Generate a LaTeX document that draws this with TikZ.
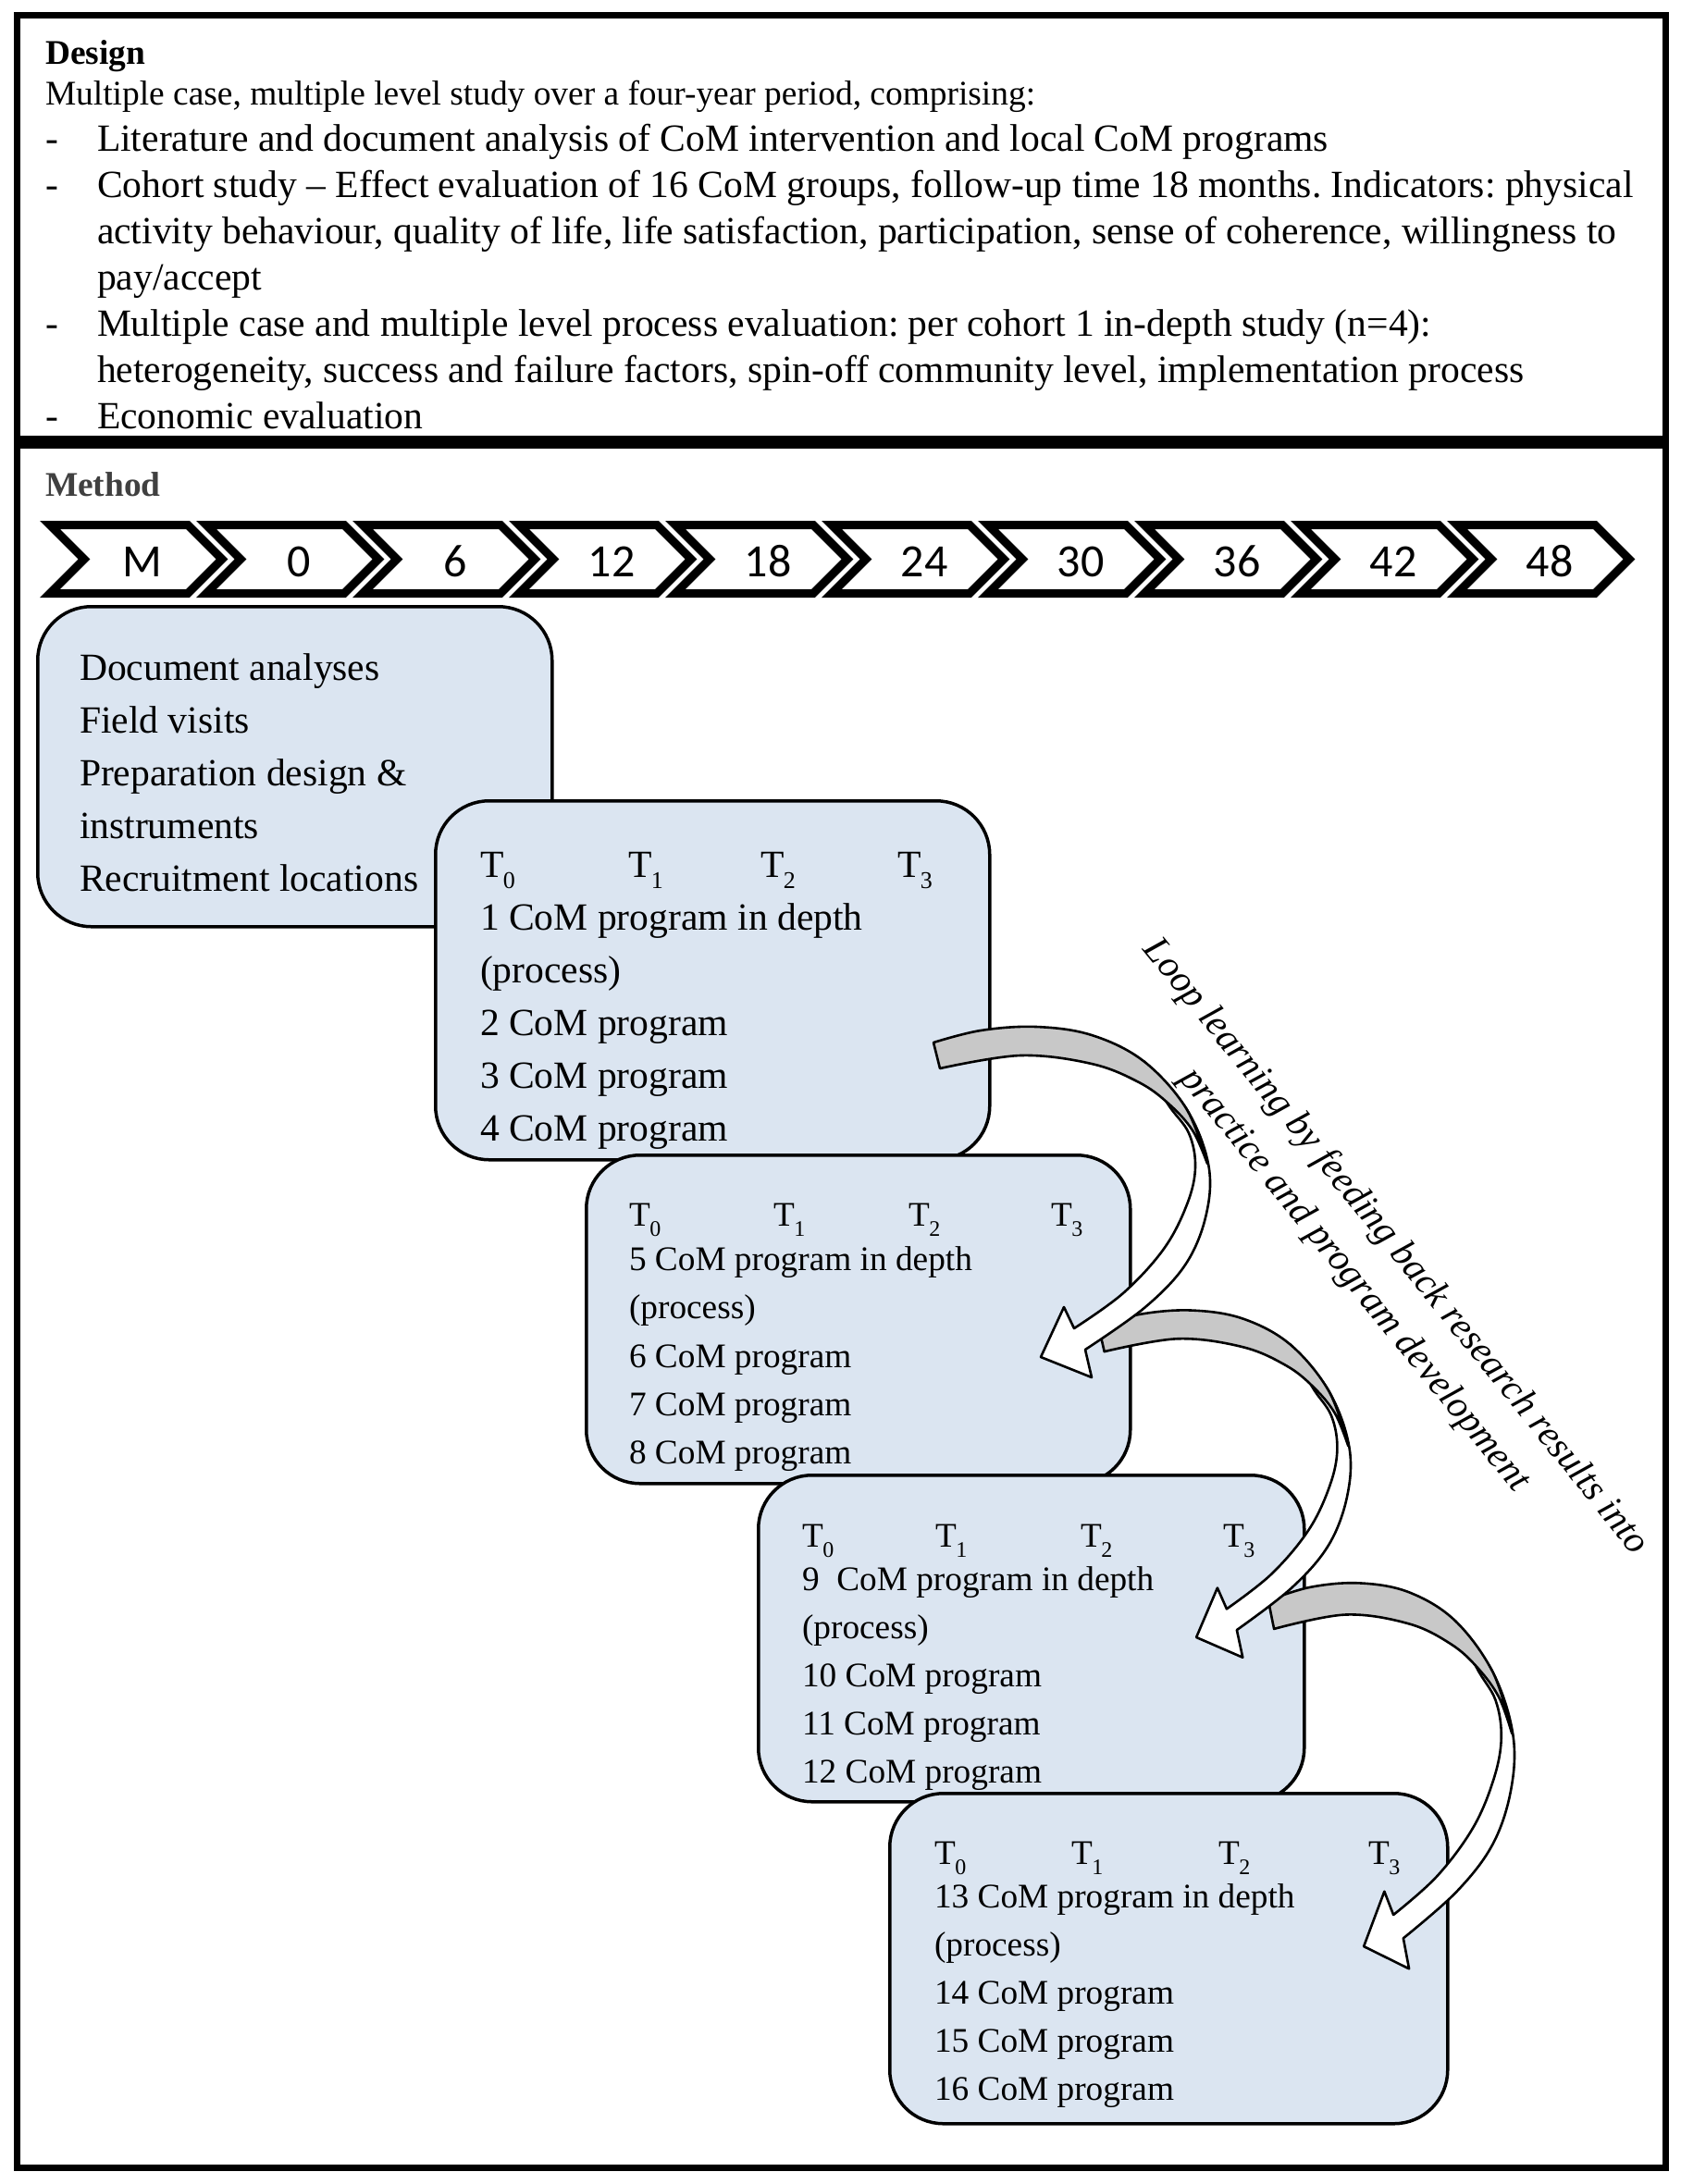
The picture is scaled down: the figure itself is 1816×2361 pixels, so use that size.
\documentclass[tikz,border=0pt]{standalone}
\usepackage{fontspec}
\setmainfont{Liberation Serif}
\newfontfamily\chevfont{Carlito}
\definecolor{boxblue}{HTML}{DBE5F1}
\definecolor{arrowgray}{HTML}{C8C8C8}
\definecolor{methodgray}{HTML}{404040}
\frenchspacing
\newcommand\FS[2]{\fontsize{#1}{#2}\selectfont}
\newcommand\Tx[2]{T\kern-0.5pt\raisebox{-0.3em}{\fontsize{#2}{#2}\selectfont #1}}
\newcommand\loopArrow{%
 \filldraw[arrowline, fill=white] plot[smooth,tension=0.6] coordinates {(1236,1147) (1282,1198) (1306,1258) (1304,1312) (1282,1366) (1238,1413) (1173,1459)} -- (1180,1489) -- (1125,1467) -- (1150,1413) -- (1161,1436) -- plot[smooth,tension=0.6] coordinates {(1161,1436) (1214,1398) (1258,1350) (1283,1302) (1292,1262) (1285,1225) (1262,1193) (1236,1147)} -- cycle;
 \filldraw[arrowline, fill=arrowgray] plot[smooth,tension=0.6] coordinates {(1009,1127) (1060,1114) (1120,1110) (1180,1119) (1236,1147) (1282,1198) (1305,1258)} -- plot[smooth,tension=0.6] coordinates {(1305,1258) (1289,1222) (1263,1193) (1231,1170) (1180,1150) (1103,1141) (1016,1155)} -- cycle;
}
\begin{document}
\begin{tikzpicture}[x=1pt,y=-1pt,
  txt/.style={anchor=base west, inner sep=0pt, outer sep=0pt},
  outerbox/.style={draw=black, line width=7pt},
  cbox/.style={draw=black, line width=3.5pt, fill=boxblue, rounded corners=58pt, anchor=north west, inner sep=0pt},
  chev/.style={draw=black, fill=white, line width=9pt, line join=miter},
  arrowline/.style={draw=black, line width=2.6pt, line join=round},
  big/.style={txt, font=\FS{41.6}{48}},
  mid/.style={txt, font=\FS{37.3}{44}},
]
\useasboundingbox (0,0) rectangle (1816,2361);
\fill[white] (0,0) rectangle (1816,2361);

% frames
\draw[outerbox] (18,16) rectangle (1800,474);
\draw[outerbox] (18,481) rectangle (1800,2343);

% design header
\node[txt, font=\FS{37.4}{44}\bfseries] (design) at (49,69) {Design};
\node[txt, font=\FS{37.4}{44}] (sub) at (49,113) {Multiple case, multiple level study over a four-year period, comprising:};
\node[big] (d1) at (49,163) {-};
\node[big] (d2) at (49,213) {-};
\node[big] (d3) at (49,363) {-};
\node[big] (d4) at (49,463) {-};
\node[big] (l1) at (105,163) {Literature and document analysis of CoM intervention and local CoM programs};
\node[big] (l2) at (105,213) {Cohort study -- Effect evaluation of 16 CoM groups, follow-up time 18 months. Indicators: physical};
\node[big] (l3) at (105,263) {activity behaviour, quality of life, life satisfaction, participation, sense of coherence, willingness to};
\node[big] (l4) at (105,313) {pay/accept};
\node[big] (l5) at (105,363) {Multiple case and multiple level process evaluation: per cohort 1 in-depth study (n=4):};
\node[big] (l6) at (105,413) {heterogeneity, success and failure factors, spin-off community level, implementation process};
\node[big] (l7) at (105,463) {Economic evaluation};

% method
\node[txt, font=\FS{37.4}{44}\bfseries, text=methodgray] (method) at (49,536) {Method};

% chevrons
\foreach \lab [count=\i from 0] in {M,0,6,12,18,24,30,36,42,48} {
  \pgfmathsetmacro\xo{54+169*\i}
  \draw[chev] (\xo,567.5) -- ++(149,0) -- ++(37,37) -- ++(-37,37) -- ++(-149,0) -- ++(37,-37) -- cycle;
  \node[font=\chevfont\FS{50}{60}, inner sep=0pt] (c\i) at (\xo+100,607) {\lab};
}

% box 1
\node[cbox, minimum width=556pt, minimum height=346pt] (b1) at (39,654) {};
\node[big] (b1a) at (86,735) {Document analyses};
\node[big] (b1b) at (86,792) {Field visits};
\node[big] (b1c) at (86,849) {Preparation design \&};
\node[big] (b1d) at (86,906) {instruments};
\node[big] (b1e) at (86,963) {Recruitment locations};

% box 2
\node[cbox, minimum width=599pt, minimum height=388pt] (b2) at (469,864) {};
\node[big] (b2t0) at (519,948) {\Tx{0}{26}};
\node[big] (b2t1) at (679,948) {\Tx{1}{26}};
\node[big] (b2t2) at (822,948) {\Tx{2}{26}};
\node[big] (b2t3) at (970,948) {\Tx{3}{26}};
\node[big] (b2a) at (519,1005) {1 CoM program in depth};
\node[big] (b2b) at (519,1062) {(process)};
\node[big] (b2c) at (519,1119) {2 CoM program};
\node[big] (b2d) at (519,1176) {3 CoM program};
\node[big] (b2e) at (519,1233) {4 CoM program};

% box 3
\node[cbox, minimum width=588pt, minimum height=355pt] (b3) at (632,1247) {};
\node[mid] (b3t0) at (680,1325) {\Tx{0}{24}};
\node[mid] (b3t1) at (836,1325) {\Tx{1}{24}};
\node[mid] (b3t2) at (982,1325) {\Tx{2}{24}};
\node[mid] (b3t3) at (1136,1325) {\Tx{3}{24}};
\node[mid] (b3a) at (680,1373) {5 CoM program in depth};
\node[mid] (b3b) at (680,1425) {(process)};
\node[mid] (b3c) at (680,1478) {6 CoM program};
\node[mid] (b3d) at (680,1530) {7 CoM program};
\node[mid] (b3e) at (680,1582) {8 CoM program};

% box 4
\node[cbox, minimum width=590pt, minimum height=353pt] (b4) at (818,1593) {};
\node[mid] (b4t0) at (867,1672) {\Tx{0}{24}};
\node[mid] (b4t1) at (1011,1672) {\Tx{1}{24}};
\node[mid] (b4t2) at (1168,1672) {\Tx{2}{24}};
\node[mid] (b4t3) at (1322,1672) {\Tx{3}{24}};
\node[mid] (b4a) at (867,1719) {9\ \ CoM program in depth};
\node[mid] (b4b) at (867,1771) {(process)};
\node[mid] (b4c) at (867,1823) {10 CoM program};
\node[mid] (b4d) at (867,1875) {11 CoM program};
\node[mid] (b4e) at (867,1927) {12 CoM program};

% box 5
\node[cbox, minimum width=603pt, minimum height=357pt] (b5) at (960,1937) {};
\node[mid] (b5t0) at (1010,2015) {\Tx{0}{24}};
\node[mid] (b5t1) at (1158,2015) {\Tx{1}{24}};
\node[mid] (b5t2) at (1317,2015) {\Tx{2}{24}};
\node[mid] (b5t3) at (1479,2015) {\Tx{3}{24}};
\node[mid] (b5a) at (1010,2062) {13 CoM program in depth};
\node[mid] (b5b) at (1010,2114) {(process)};
\node[mid] (b5c) at (1010,2166) {14 CoM program};
\node[mid] (b5d) at (1010,2218) {15 CoM program};
\node[mid] (b5e) at (1010,2270) {16 CoM program};

% loop arrows (last first so earlier ones lie on top)
\begin{scope}[shift={(1475,2103)}, xscale=0.89, yscale=1.10, shift={(-1126,-1466)}]
  \loopArrow
\end{scope}
\begin{scope}[shift={(1294,1769)}, xscale=0.912, yscale=0.99, shift={(-1126,-1466)}]
  \loopArrow
\end{scope}
\loopArrow

% rotated label
\node[rotate=-51, font=\FS{41}{57}\itshape, align=center, inner sep=0pt] (loop) at (1486,1366) {Loop learning by feeding back research results into\\practice and program development};
\end{tikzpicture}
\end{document}
